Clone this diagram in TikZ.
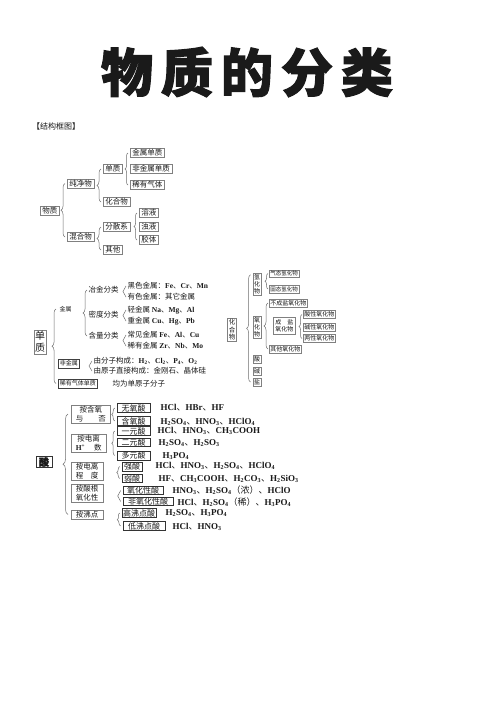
\documentclass[tikz,border=0pt]{standalone}
\usepackage{fontspec}
\setmainfont{Liberation Serif}
\newfontfamily\cjk{Noto Sans CJK SC}
\newfontfamily\cjkh[BoldFeatures={FakeBold=2}]{Noto Sans CJK SC}
\newfontfamily\lserif{Liberation Serif}
\usetikzlibrary{decorations.pathreplacing}
\newcommand\fs[2]{\fontsize{#1}{#2}\selectfont}
\newcommand\fm[1]{{\lserif\bfseries #1}}
\definecolor{ink}{HTML}{1A1A1A}
\definecolor{bline}{HTML}{808080}
\definecolor{brc}{HTML}{6E6E6E}
\begin{document}
\begin{tikzpicture}[x=1pt,y=-1pt,
  every node/.style={text=ink},
  tb/.style={draw=bline,line width=0.5pt,font=\cjk\fs{7.5}{9},inner xsep=2pt,inner ysep=1.2pt,anchor=west},
  tx/.style={font=\cjk\fs{7.5}{9},inner sep=0.5pt,anchor=west},
  sb/.style={draw=black!75,line width=0.5pt,font=\cjk\fs{6}{7},inner sep=1.5pt,anchor=west},
  mb/.style={draw=black!75,line width=0.35pt,double,double distance=0.6pt,font=\cjk\fs{6}{7},inner sep=1.5pt,anchor=west},
  vb/.style={draw=bline,line width=0.5pt,font=\cjk\fs{6}{7},align=center,inner sep=1.2pt},
  sb2/.style={draw=bline,line width=0.5pt,font=\cjk\fs{5.5}{6.5},inner sep=1.2pt,anchor=west},
  sb3/.style={draw=bline,line width=0.5pt,font=\cjk\fs{6}{7},inner sep=1.2pt,anchor=west},
  cb/.style={draw=bline,line width=0.6pt,font=\cjk\fs{7.5}{9},align=center,inner xsep=4.5pt,inner ysep=1pt,anchor=west},
  ab/.style={draw=black!80,line width=0.6pt,font=\cjk\fs{8}{9},inner xsep=1pt,inner ysep=0.6pt},
  fx/.style={font=\cjk\fs{9}{10},inner sep=0.5pt,anchor=west},
  br/.style={draw=brc,line width=0.5pt,decorate,decoration={brace,amplitude=4pt}},
  br2/.style={draw=brc,line width=0.5pt,decorate,decoration={brace,amplitude=3pt}}
]
\fill[white] (0,0) rectangle (496,702);
\useasboundingbox (0,0) rectangle (496,702);

% title
\node[font=\cjkh\bfseries\fs{52}{54}] (title) at (247,72) {物\hspace{8pt}质\hspace{8pt}的\hspace{8pt}分\hspace{8pt}类};
\node[font=\cjk\fs{8}{9},anchor=west,inner sep=0pt] (head) at (32,126) {【结构框图】};

% top diagram
\node[tb] (wz) at (40,211) {物质};
\node[tb] (cjw) at (67,183.5) {纯净物};
\node[tb] (hhw) at (67,237) {混合物};
\node[tb] (dz) at (103,169) {单质};
\node[tb] (hhw2) at (103,202) {化合物};
\node[tb] (jsdz) at (130,153) {金属单质};
\node[tb] (fjsdz) at (130,169) {非金属单质};
\node[tb] (xyqt) at (130,185) {稀有气体};
\node[tb] (fsx) at (103,227) {分散系};
\node[tb] (qt) at (103,250) {其他};
\node[tb] (ry) at (139,213) {溶液};
\node[tb] (zy) at (139,227) {浊液};
\node[tb] (jt) at (139,240) {胶体};
\draw[br] ([xshift=-2pt]hhw.west) -- ([xshift=-2pt]cjw.west);
\draw[br] ([xshift=-2pt]hhw2.west) -- ([xshift=-2pt]dz.west);
\draw[br2] ([xshift=-2pt]xyqt.west) -- ([xshift=-2pt]jsdz.west);
\draw[br] ([xshift=-2pt]qt.west) -- ([xshift=-2pt]fsx.west);
\draw[br2] ([xshift=-2pt]jt.west) -- ([xshift=-2pt]ry.west);

% elements
\node[draw=bline,line width=0.5pt,font=\cjk\fs{10}{12},align=center,inner sep=1.2pt] (dzB) at (40,342) {单\\质};
\node[mb] (js) at (58,309) {金属};
\node[sb] (fjs) at (58,363.5) {非金属};
\node[sb] (xy) at (58,383.5) {稀有气体单质};
\node[tx] (jw) at (112,384) {均为单原子分子};
\draw[br] ([xshift=-2pt]xy.west) -- ([xshift=-2pt]js.west);
\node[tx] (yj) at (88,290) {冶金分类};
\node[tx] (md) at (88,315) {密度分类};
\node[tx] (hl) at (88,336) {含量分类};
\draw[br] ([xshift=-1pt]hl.west) -- ([xshift=-1pt]yj.west);
\node[tx] (l1) at (127,286) {黑色金属：\fm{Fe}、\fm{Cr}、\fm{Mn}};
\node[tx] (l2) at (127,297) {有色金属：其它金属};
\node[tx] (l3) at (127,310) {轻金属 \fm{Na}、\fm{Mg}、\fm{Al}};
\node[tx] (l4) at (127,321) {重金属 \fm{Cu}、\fm{Hg}、\fm{Pb}};
\node[tx] (l5) at (127,335) {常见金属 \fm{Fe}、\fm{Al}、\fm{Cu}};
\node[tx] (l6) at (127,346) {稀有金属 \fm{Zr}、\fm{Nb}、\fm{Mo}};
\draw[br2] ([xshift=-1pt]l2.west) -- ([xshift=-1pt]l1.west);
\draw[br2] ([xshift=-1pt]l4.west) -- ([xshift=-1pt]l3.west);
\draw[br2] ([xshift=-1pt]l6.west) -- ([xshift=-1pt]l5.west);
\node[tx] (l7) at (93,361) {由分子构成：\fm{H\textsubscript{2}}、\fm{Cl\textsubscript{2}}、\fm{P\textsubscript{4}}、\fm{O\textsubscript{2}}};
\node[tx] (l8) at (93,371) {由原子直接构成：金刚石、晶体硅};
\draw[br2] ([xshift=-1pt]l8.west) -- ([xshift=-1pt]l7.west);

% compounds
\node[vb,font=\cjk\fs{6.5}{7.5}] (hhB) at (232,330) {化\\合\\物};
\node[vb] (qhw) at (257,284) {氢\\化\\物};
\node[vb] (yhw) at (257,327) {氧\\化\\物};
\node[vb] (s1) at (257,359) {酸};
\node[vb] (j1) at (257,371) {碱};
\node[vb] (y1) at (257,382) {盐};
\draw[br] ([xshift=-2pt]y1.west) -- ([xshift=-2pt,yshift=-2pt]qhw.north west);
\node[sb2] (qt1) at (269,273.5) {气态氢化物};
\node[sb2] (gt1) at (269,289) {固态氢化物};
\draw[br2] ([xshift=-1pt]gt1.west) -- ([xshift=-1pt]qt1.west);
\node[sb3] (bcy) at (269,303) {不成盐氧化物};
\node[sb3,align=center,inner sep=2pt] (cy) at (273,326) {成\hspace{6pt}盐\\氧化物};
\node[sb3] (qty) at (269,349) {其他氧化物};
\draw[br] ([xshift=-1pt]qty.west) -- ([xshift=-1pt]bcy.west);
\node[sb3] (sx) at (303,314.5) {酸性氧化物};
\node[sb3] (jx) at (303,327) {碱性氧化物};
\node[sb3] (lx) at (303,338.5) {两性氧化物};
\draw[br2] ([xshift=-1pt]lx.west) -- ([xshift=-1pt]sx.west);

% acids
\node[draw=black!80,line width=0.6pt,font=\cjkh\bfseries\fs{10}{12},inner xsep=3pt,inner ysep=0.5pt] (suan) at (44,462) {酸};
\node[cb] (c1) at (71,414) {按含氧\\与　　否};
\node[cb] (c2) at (71,443.5) {按电离\\\fm{H\textsuperscript{+}}\hspace{9pt}数};
\node[cb] (c3) at (71,471.5) {按电离\\程　度};
\node[cb] (c4) at (71,493.5) {按酸根\\氧化性};
\node[cb] (c5) at (71,514.5) {按沸点};
\draw[draw=brc,line width=0.5pt,decorate,decoration={brace,amplitude=5pt}] ([xshift=-3pt]c5.west) -- ([xshift=-3pt]c1.west);
\node[ab,minimum width=33pt] (a1) at (133.5,408) {无氧酸};
\node[ab,minimum width=33pt] (a2) at (133.5,421) {含氧酸};
\node[ab,minimum width=33pt] (a3) at (133.5,431) {一元酸};
\node[ab,minimum width=33pt] (a4) at (133.5,442.5) {二元酸};
\node[ab,minimum width=33pt] (a5) at (133.5,455.5) {多元酸};
\node[ab,minimum width=20pt] (a6) at (132,466.5) {强酸};
\node[ab,minimum width=20pt] (a7) at (132,478.5) {弱酸};
\node[ab,minimum width=40pt] (a8) at (143,490.5) {氧化性酸};
\node[ab,minimum width=50pt] (a9) at (148,501.5) {非氧化性酸};
\node[ab,minimum width=32pt] (a10) at (139,513) {高沸点酸};
\node[ab,minimum width=42pt] (a11) at (144,526) {低沸点酸};
\draw[br2] ([xshift=-2pt]a2.west) -- ([xshift=-2pt]a1.west);
\draw[br2] ([xshift=-2pt]a5.west) -- ([xshift=-2pt]a3.west);
\draw[br2] ([xshift=-2pt]a7.west) -- ([xshift=-2pt]a6.west);
\draw[br2] ([xshift=-2pt]a9.west) -- ([xshift=-2pt]a8.west);
\draw[br2] ([xshift=-2pt]a11.west) -- ([xshift=-2pt]a10.west);
\node[fx] (f1) at (160,408) {\fm{HCl}、\fm{HBr}、\fm{HF}};
\node[fx] (f2) at (160,422) {\fm{H\textsubscript{2}SO\textsubscript{4}}、\fm{HNO\textsubscript{3}}、\fm{HClO\textsubscript{4}}};
\node[fx] (f3) at (157,431) {\fm{HCl}、\fm{HNO\textsubscript{3}}、\fm{CH\textsubscript{3}COOH}};
\node[fx] (f4) at (158,443) {\fm{H\textsubscript{2}SO\textsubscript{4}}、\fm{H\textsubscript{2}SO\textsubscript{3}}};
\node[fx] (f5) at (162,456) {\fm{H\textsubscript{3}PO\textsubscript{4}}};
\node[fx] (f6) at (155,466) {\fm{HCl}、\fm{HNO\textsubscript{3}}、\fm{H\textsubscript{2}SO\textsubscript{4}}、\fm{HClO\textsubscript{4}}};
\node[fx] (f7) at (158,479) {\fm{HF}、\fm{CH\textsubscript{3}COOH}、\fm{H\textsubscript{2}CO\textsubscript{3}}、\fm{H\textsubscript{2}SiO\textsubscript{3}}};
\node[fx] (f8) at (172,490) {\fm{HNO\textsubscript{3}}、\fm{H\textsubscript{2}SO\textsubscript{4}}（浓）、\fm{HClO}};
\node[fx] (f9) at (177,502) {\fm{HCl}、\fm{H\textsubscript{2}SO\textsubscript{4}}（稀）、\fm{H\textsubscript{3}PO\textsubscript{4}}};
\node[fx] (f10) at (165,513) {\fm{H\textsubscript{2}SO\textsubscript{4}}、\fm{H\textsubscript{3}PO\textsubscript{4}}};
\node[fx] (f11) at (172,527) {\fm{HCl}、\fm{HNO\textsubscript{3}}};
\end{tikzpicture}
\end{document}
